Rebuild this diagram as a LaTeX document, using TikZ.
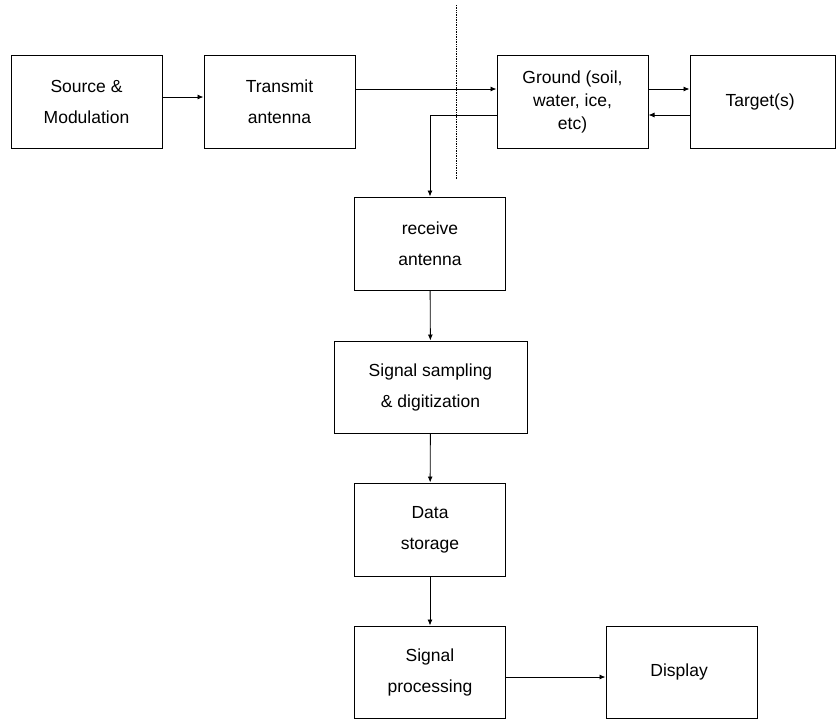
\documentclass[tikz,border=0pt]{standalone}
\usepackage{fontspec}
\setmainfont{Liberation Sans}
\usetikzlibrary{arrows.meta}

\begin{document}
\begin{tikzpicture}[x=1pt, y=-1pt, every node/.style={
    rectangle,
    draw,
    line width=1pt,
    minimum width=151pt,
    minimum height=93pt,
    align=center,
    font=\fontsize{17.5}{31}\selectfont
}, flow/.style={-{Latex[length=6pt,width=5pt]}, line width=0.9pt}]
    \useasboundingbox (0,0) rectangle (836,721);

    \node (source_modulation) [shift={(86.5, 101.5)}]
    {
        Source \&\\Modulation
    };
    \node (transmit_antenna) [shift={(279.5, 101.5)}]
    {
        Transmit\\antenna
    };
    \node (ground) [shift={(572.5, 101.5)}, font=\fontsize{17.5}{23}\selectfont]
    {
        Ground (soil,\\water, ice,\\etc)
    };
    \node (targets) [minimum width=145pt, shift={(762.5, 101.5)}]
    {
        Target(s)
    };
    \node (receive_antenna) [shift={(430, 243.5)}]
    {
        receive\\antenna
    };
    \node (signal_sampling) [minimum width=193pt, minimum height=92pt, shift={(430.5, 387)}]
    {
        Signal sampling\\\& digitization
    };
    \node (data_storage) [shift={(430, 529.5)}]
    {
        Data\\storage
    };
    \node (signal_processing) [minimum height=92pt, shift={(430, 672)}]
    {
        Signal\\processing
    };
    \node (display) [minimum height=92pt, shift={(681.5, 672)}]
    {
        Display
    };

    \coordinate (surface_top) at (456, 5);
    \coordinate (surface_bottom) at (456, 180);
    \draw[densely dotted, line width=0.7pt] (surface_top) to (surface_bottom);

    \draw[flow] ([yshift=4.5pt]source_modulation.east) to ([yshift=4.5pt]transmit_antenna.west);
    \draw[flow] ([yshift=12.5pt]transmit_antenna.east) to ([yshift=12.5pt]ground.west);
    \draw[flow] ([yshift=12.5pt]ground.east) to ([yshift=12.5pt]targets.west);
    \draw[flow] ([yshift=-13.5pt]targets.west) to ([yshift=-13.5pt]ground.east);
    \draw[flow] ([yshift=-13.5pt]ground.west) -| (receive_antenna.north);
    \draw[flow] (receive_antenna) to (signal_sampling);
    \draw[flow] (signal_sampling) to (data_storage);
    \draw[flow] (data_storage) to (signal_processing);
    \draw[flow] ([yshift=-5pt]signal_processing.east) to ([yshift=-5pt]display.west);
\end{tikzpicture}
\end{document}
